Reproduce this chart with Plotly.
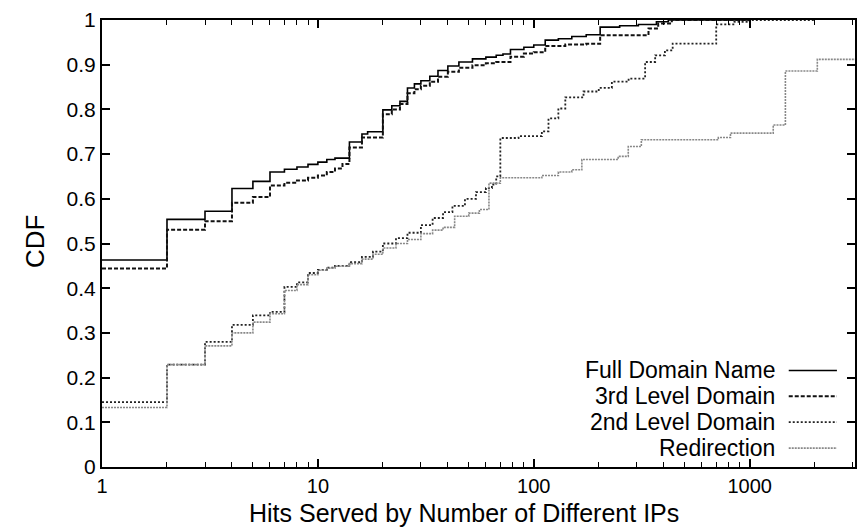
import plotly.graph_objects as go

# Step CDFs: each (x, y) pair is the CDF value reached at that number of hits
full_x = [1, 2, 3, 4, 5, 6, 7, 8, 9, 10, 11, 12, 14, 16, 17, 20, 22, 24, 26, 28, 30, 33, 36, 40,
          45, 52, 60, 67, 72, 78, 90, 100, 113, 130, 150, 175, 203, 250, 305, 370, 420, 1000]
full_y = [0.463, 0.554, 0.572, 0.623, 0.639, 0.660, 0.666, 0.671, 0.677, 0.682, 0.688, 0.691,
          0.727, 0.745, 0.750, 0.799, 0.808, 0.818, 0.848, 0.857, 0.864, 0.874, 0.887, 0.897,
          0.906, 0.913, 0.917, 0.921, 0.924, 0.934, 0.939, 0.944, 0.955, 0.958, 0.963, 0.967,
          0.984, 0.987, 0.990, 0.996, 1.0, 1.0]

third_x = [1, 2, 3, 4, 5, 6, 7, 8, 9, 10, 11, 12, 13, 14, 16, 20, 22, 24, 26, 28, 30, 33, 36, 40,
           45, 52, 60, 67, 78, 90, 100, 113, 140, 175, 203, 340, 377, 436, 1000]
third_y = [0.444, 0.531, 0.550, 0.591, 0.604, 0.630, 0.636, 0.641, 0.647, 0.652, 0.660, 0.668,
           0.678, 0.715, 0.737, 0.789, 0.800, 0.812, 0.836, 0.845, 0.853, 0.862, 0.873, 0.884,
           0.893, 0.899, 0.903, 0.906, 0.918, 0.925, 0.928, 0.942, 0.945, 0.947, 0.966, 0.981,
           0.992, 1.0, 1.0]

second_x = [1, 2, 3, 4, 5, 6, 7, 8, 9, 10, 11, 12, 14, 16, 18, 20, 23, 26, 30, 34, 38, 42, 48,
            54, 60, 64, 67, 70, 85, 109, 117, 130, 140, 170, 200, 230, 275, 328, 365, 405, 440,
            700, 850, 1000, 2000]
second_y = [0.145, 0.229, 0.280, 0.318, 0.339, 0.347, 0.403, 0.413, 0.434, 0.441, 0.446, 0.450,
            0.458, 0.470, 0.482, 0.500, 0.512, 0.524, 0.541, 0.557, 0.570, 0.584, 0.600, 0.615,
            0.624, 0.632, 0.650, 0.736, 0.740, 0.751, 0.780, 0.802, 0.827, 0.840, 0.848, 0.862,
            0.869, 0.906, 0.921, 0.932, 0.947, 0.990, 0.996, 1.0, 1.0]

redir_x = [1, 2, 3, 4, 5, 6, 7, 8, 9, 10, 11, 12, 14, 16, 18, 20, 23, 26, 30, 34, 38, 43, 50,
           56, 62, 70, 109, 130, 150, 167, 246, 274, 315, 716, 815, 1286, 1464, 2058, 5000]
redir_y = [0.133, 0.229, 0.271, 0.300, 0.324, 0.343, 0.395, 0.408, 0.430, 0.440, 0.445, 0.449,
           0.455, 0.465, 0.476, 0.490, 0.500, 0.509, 0.522, 0.530, 0.536, 0.561, 0.568, 0.576,
           0.635, 0.647, 0.652, 0.660, 0.665, 0.688, 0.695, 0.717, 0.732, 0.737, 0.747, 0.765,
           0.886, 0.912, 0.912]

series_names = ["Full Domain Name", "3rd Level Domain", "2nd Level Domain", "Redirection"]
x_tick_vals = [1, 10, 100, 1000]
x_tick_text = ["1", "10", "100", "1000"]
y_tick_vals = [0, 0.1, 0.2, 0.3, 0.4, 0.5, 0.6, 0.7, 0.8, 0.9, 1]

styles = [
    dict(color="#000000", width=1.6, dash="solid"),
    dict(color="#111111", width=2.0, dash="4px,2px"),
    dict(color="#222222", width=1.8, dash="2px,2px"),
    dict(color="#888888", width=1.6, dash="2px,1px"),
]

data = [(full_x, full_y), (third_x, third_y), (second_x, second_y), (redir_x, redir_y)]

fig = go.Figure()
for (xs, ys), name, st in zip(data, series_names, styles):
    fig.add_trace(go.Scatter(
        x=xs, y=ys, mode="lines", name=name, showlegend=False,
        line=dict(shape="hv", **st),
    ))

FONT = "Liberation Sans, Arial, Helvetica, sans-serif"

# legend in gnuplot style: right-aligned label followed by a line sample
leg_y = [0.2160, 0.1581, 0.1002, 0.0423]
annotations = []
shapes = []
for name, st, yy in zip(series_names, styles, leg_y):
    annotations.append(dict(
        x=0.897, y=yy, xref="paper", yref="paper", text=name, showarrow=False,
        xanchor="right", yanchor="middle",
        font=dict(family=FONT, size=23, color="#000"),
    ))
    shapes.append(dict(
        type="line", xref="paper", yref="paper", x0=0.912, x1=0.976, y0=yy, y1=yy,
        line=dict(color=st["color"], width=st["width"], dash=st["dash"]),
    ))

annotations.append(dict(
    x=(465 - 102) / 755, y=-0.104, xref="paper", yref="paper",
    text="Hits Served by Number of Different IPs", showarrow=False,
    xanchor="center", yanchor="middle",
    font=dict(family=FONT, size=25, color="#000"),
))
annotations.append(dict(
    x=-0.088, y=0.505, xref="paper", yref="paper", text="CDF", showarrow=False,
    textangle=-90, xanchor="center", yanchor="middle",
    font=dict(family=FONT, size=26, color="#000"),
))

fig.update_layout(
    width=865, height=527,
    margin=dict(l=102, r=8, t=18, b=60),
    paper_bgcolor="white", plot_bgcolor="white",
    font=dict(family=FONT, size=21, color="#000"),
    annotations=annotations, shapes=shapes,
)
fig.update_xaxes(
    type="log", range=[0, 3.488],
    tickmode="array", tickvals=x_tick_vals, ticktext=x_tick_text,
    tickfont=dict(size=20),
    ticks="inside", ticklen=8, tickwidth=1.5, tickcolor="#000",
    minor=dict(ticks="inside", ticklen=5, tickwidth=1.2, tickcolor="#000",
               tickmode="array",
               tickvals=[m * d for d in (1, 10, 100, 1000) for m in range(2, 10)]),
    showline=True, linecolor="#000", linewidth=2, mirror="ticks",
    showgrid=False, zeroline=False,
)
fig.update_yaxes(
    range=[0, 1], tickmode="array", tickvals=y_tick_vals,
    ticks="inside", ticklen=8, tickwidth=1.5, tickcolor="#000",
    showline=True, linecolor="#000", linewidth=2, mirror="ticks",
    showgrid=False, zeroline=False,
)

fig.write_html("out.html")
